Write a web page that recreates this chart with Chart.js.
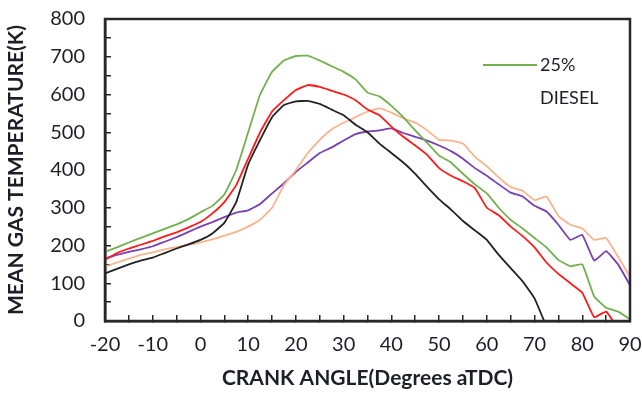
<!DOCTYPE html>
<html>
<head>
<meta charset="utf-8">
<script src="https://cdn.jsdelivr.net/npm/chart.js@4"></script>
<style>
  html, body { margin: 0; padding: 0; background: #fff; }
  #wrap { width: 642px; height: 395px; }
</style>
</head>
<body>
<div id="wrap"><canvas id="tempChart"></canvas></div>
<script>
// crank angle grid (deg aTDC)
const angles = [-20, -17.5, -15, -12.5, -10, -7.5, -5, -2.5, 0, 2.5, 5, 7.5, 10, 12.5, 15, 17.5, 20, 22.5, 25, 27.5, 30,
  32.5, 35, 37.5, 40, 42.5, 45, 47.5, 50, 52.5, 55, 57.5, 60, 62.5, 65, 67.5, 70, 72.5, 75, 77.5, 80, 82.5, 85, 87.5, 90];

// mean gas temperature (K)
const green = [183, 195, 208, 220, 232, 244, 256, 270, 288, 305, 335, 400, 500, 600, 660, 690, 702, 703, 690, 675, 660,
  640, 605, 595, 570, 540, 505, 472, 438, 420, 390, 362, 338, 300, 268, 245, 220, 195, 162, 145, 150, 65, 35, 25, 5];
const red = [162, 180, 192, 202, 212, 224, 235, 248, 262, 285, 315, 360, 430, 500, 555, 585, 612, 625, 620, 610, 600,
  585, 560, 545, 515, 488, 465, 440, 405, 385, 370, 352, 300, 280, 250, 225, 195, 155, 125, 100, 75, 10, 25, -20, null];
const black = [126, 138, 150, 160, 168, 180, 192, 203, 215, 232, 260, 315, 415, 480, 540, 572, 582, 583, 575, 560, 545,
  520, 500, 470, 445, 420, 390, 355, 322, 295, 265, 240, 215, 175, 140, 105, 60, -15, null, null, null, null, null, null, null];
const orange = [144, 155, 165, 175, 182, 190, 196, 202, 208, 216, 226, 236, 250, 268, 300, 360, 400, 445, 480, 508, 525,
  540, 555, 563, 552, 537, 525, 505, 480, 478, 470, 435, 410, 380, 355, 345, 320, 330, 278, 255, 245, 215, 220, 170, 117];
const purple = [166, 175, 183, 190, 198, 210, 222, 236, 250, 262, 275, 287, 293, 310, 338, 365, 395, 420, 445, 460, 478,
  495, 502, 505, 510, 498, 488, 478, 465, 450, 430, 405, 385, 362, 340, 330, 305, 290, 255, 215, 228, 160, 185, 150, 95];

// ticks every 5 deg / 50 K, labels only on every other one
const xTicks = [-20, -15, -10, -5, 0, 5, 10, 15, 20, 25, 30, 35, 40, 45, 50, 55, 60, 65, 70, 75, 80, 85, 90];
const yTicks = [0, 50, 100, 150, 200, 250, 300, 350, 400, 450, 500, 550, 600, 650, 700, 750, 800];

const FONT = 'Lato, "Liberation Sans", sans-serif';
const INK = '#1e1e28';
const AXIS = 'rgb(40, 40, 40)';

function pts(vals) {
  return angles.map((a, i) => ({ x: a, y: vals[i] }));
}

function line(label, vals, color) {
  return {
    label: label,
    data: pts(vals),
    borderColor: color,
    backgroundColor: color,
    borderWidth: 1.8,
    pointRadius: 0,
    tension: 0.1,
    spanGaps: false
  };
}

// frame around the plot plus the one-entry legend
const framePlugin = {
  id: 'innerLegend',
  afterDatasetsDraw(chart) {
    const ctx = chart.ctx;
    const a = chart.chartArea;
    ctx.save();
    ctx.strokeStyle = AXIS;
    ctx.lineWidth = 2.5;
    ctx.strokeRect(a.left, a.top, a.right - a.left, a.bottom - a.top);

    const ds = chart.data.datasets[0];
    const lx = a.left + 378, ly = a.top + 46;
    ctx.strokeStyle = ds.borderColor;
    ctx.lineWidth = 1.8;
    ctx.beginPath();
    ctx.moveTo(lx, ly);
    ctx.lineTo(lx + 54, ly);
    ctx.stroke();
    ctx.fillStyle = INK;
    ctx.font = '18px ' + FONT;
    ctx.textBaseline = 'middle';
    ctx.fillText(ds.label, lx + 57, ly);
    ctx.fillText('DIESEL', lx + 57, ly + 33);
    ctx.restore();
  }
};

const innerTicks = { display: true, drawOnChartArea: false, drawTicks: true, tickLength: -6, color: AXIS, lineWidth: 1.5 };

new Chart(document.getElementById('tempChart'), {
  type: 'line',
  data: {
    datasets: [
      line('25%', green, '#72b04e'),
      line('red', red, '#ff1a1a'),
      line('black', black, '#222222'),
      line('orange', orange, '#f8b48e'),
      line('purple', purple, '#7a3fb0')
    ]
  },
  options: {
    responsive: true,
    maintainAspectRatio: false,
    animation: false,
    layout: { padding: { top: 19, right: 12, left: 0, bottom: 0 } },
    plugins: { legend: { display: false }, tooltip: { enabled: false } },
    scales: {
      x: {
        type: 'linear',
        min: -20,
        max: 90,
        afterFit(s) { s.height = 74; s.paddingLeft = 0; s.paddingRight = 0; },
        afterBuildTicks(s) { s.ticks = xTicks.map(v => ({ value: v })); },
        grid: innerTicks,
        border: { display: true, color: AXIS, width: 2.5 },
        ticks: {
          color: INK, font: { family: FONT, size: 20 }, padding: 18, maxRotation: 0, autoSkip: false,
          callback: v => (v % 10 === 0 ? v : '')
        },
        title: {
          display: true,
          text: 'CRANK ANGLE(Degrees aTDC)',
          color: INK,
          font: { family: FONT, size: 21, weight: 'bold' },
          padding: { top: 0 }
        }
      },
      y: {
        min: 0,
        max: 800,
        afterFit(s) { s.width = 105; s.paddingTop = 0; s.paddingBottom = 0; },
        afterBuildTicks(s) { s.ticks = yTicks.map(v => ({ value: v })); },
        grid: innerTicks,
        border: { display: true, color: AXIS, width: 2.5 },
        ticks: {
          color: INK, font: { family: FONT, size: 20 }, padding: 26, autoSkip: false,
          callback: v => (v % 100 === 0 ? v : '')
        },
        title: {
          display: true,
          text: 'MEAN GAS TEMPERATURE(K)',
          color: INK,
          font: { family: FONT, size: 21, weight: 'bold' },
          padding: { bottom: 2 }
        }
      }
    }
  },
  plugins: [framePlugin]
});
</script>
</body>
</html>
